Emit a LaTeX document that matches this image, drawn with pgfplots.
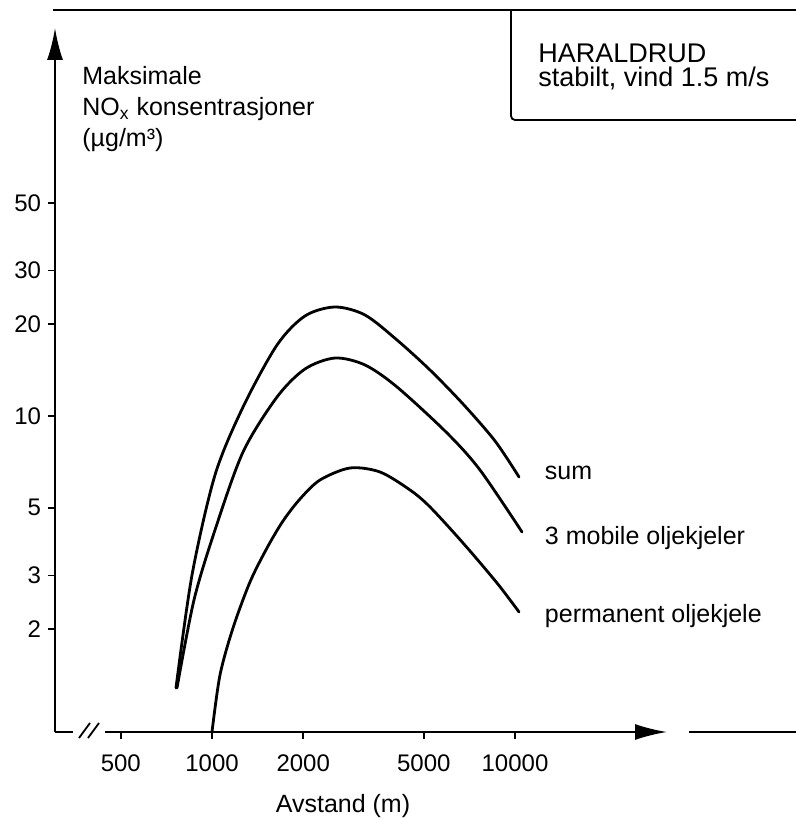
\documentclass[border=0pt]{standalone}
\usepackage{fontspec}
\setmainfont{Liberation Sans}
\usepackage{pgfplots}
\pgfplotsset{compat=1.18}
\usetikzlibrary{arrows.meta}

\begin{document}
\begin{tikzpicture}
\begin{axis}[
    scale only axis,
    width=306pt, height=352pt,
    xmode=log, ymode=log,
    xmin=303.3, xmax=31745,
    ymin=0.92, ymax=187.2,
    enlargelimits=false,
    axis x line=bottom, axis y line=left,
    axis line style={line width=1pt, -{Latex[length=16pt,width=8pt]}},
    xtick={500,1000,2000,5000,10000},
    xticklabels={500,1000,2000,5000,10000},
    ytick={2,3,5,10,20,30,50},
    yticklabels={2,3,5,10,20,30,50},
    xminorticks=false, yminorticks=false,
    tick align=outside,
    major tick length=3.5pt,
    tick style={line width=0.8pt, black},
    every tick label/.append style={font=\fontsize{12}{14}\selectfont},
    xticklabel style={yshift=-4.5pt},
    every axis plot/.append style={line width=1.4pt, black, line cap=round},
    clip=false,
]

% sum
\addplot[smooth] coordinates {
    (760.6,1.283) (859.1,3.011) (1023.1,6.406) (1265.9,10.70) (1638.9,17.09)
    (2027,21.28) (2546,22.77) (3198,21.44) (4079,17.75) (5242,14.15)
    (6736,10.95) (8591,8.28) (10309,6.31)
};
% 3 mobile oljekjeler
\addplot[smooth] coordinates {
    (766.5,1.283) (872.1,2.493) (1023.1,4.229) (1265.9,7.620) (1638.9,11.54)
    (2027,14.26) (2546,15.49) (3198,14.70) (4079,12.45) (5965,8.796)
    (7665,6.652) (10546,4.166)
};
% permanent oljekjele
\addplot[smooth] coordinates {
    (1000,0.9203) (1062.6,1.415) (1173,2.018) (1334.7,2.856) (1518.9,3.692)
    (1715.3,4.526) (1952,5.344) (2272,6.168) (2854,6.753) (3585,6.552)
    (4503,5.720) (5242,5.031) (6736,3.834) (8721,2.834) (10309,2.277)
};

\node[anchor=base west, font=\fontsize{12.5}{15}\selectfont] at (axis cs:11900,6.17) {sum};
\node[anchor=base west, font=\fontsize{12.5}{15}\selectfont] at (axis cs:11900,3.78) {3 mobile oljekjeler};
\node[anchor=base west, font=\fontsize{12.5}{15}\selectfont] at (axis cs:11900,2.10) {permanent oljekjele};
\end{axis}

% axis break on the x axis
\fill[white] (9pt,-2.5pt) rectangle (25pt,2.5pt);
\draw[line width=0.9pt] (12pt,-3pt) -- (17.5pt,4.5pt) (16.5pt,-3pt) -- (22pt,4.5pt);
% continuation of the baseline on the right
\draw[line width=1pt] (317pt,0) -- (372pt,0);
% frame line and title box
\draw[line width=0.9pt] (-1pt,361pt) -- (372pt,361pt);
\draw[line width=0.9pt, rounded corners=2pt] (372pt,306pt) -- (228pt,306pt) -- (228pt,361pt);
\node[anchor=base west, inner sep=0pt, font=\fontsize{13.5}{16}\selectfont] at (241.5pt,334.5pt) {HARALDRUD};
\node[anchor=base west, inner sep=0pt, font=\fontsize{13.5}{16}\selectfont] at (241.5pt,322.5pt) {stabilt, vind 1.5 m/s};

% y label
\node[anchor=base west, inner sep=0pt, font=\fontsize{12.5}{15}\selectfont] at (13.5pt,323.5pt) {Maksimale};
\node[anchor=base west, inner sep=0pt, font=\fontsize{12.5}{15}\selectfont] at (13.5pt,308pt) {NO\textsubscript{x} konsentrasjoner};
\node[anchor=base west, inner sep=0pt, font=\fontsize{12.5}{15}\selectfont] at (13.5pt,292.5pt) {(µg/m³)};

% x label
\node[anchor=base, inner sep=0pt, font=\fontsize{12.5}{15}\selectfont] at (144pt,-40pt) {Avstand (m)};

\pgfresetboundingbox
\path[use as bounding box] (-27.5pt,-43.5pt) rectangle (370.5pt,366pt);
\end{tikzpicture}
\end{document}
